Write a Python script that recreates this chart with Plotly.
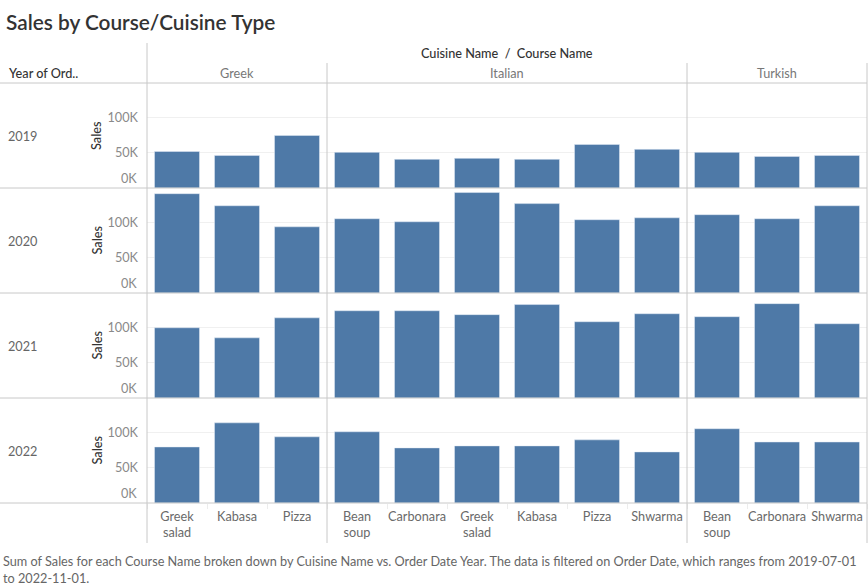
import plotly.graph_objects as go
from plotly.subplots import make_subplots

# ---- data ----
cuisines = ["Greek", "Italian", "Turkish"]
courses_greek = ["Greek<br>salad", "Kabasa", "Pizza"]
courses_italian = ["Bean<br>soup", "Carbonara", "Greek<br>salad", "Kabasa", "Pizza", "Shwarma"]
courses_turkish = ["Bean<br>soup", "Carbonara", "Shwarma"]
years = ["2019", "2020", "2021", "2022"]

sales_2019 = [52000, 46400, 74800, 50700, 40800, 42200, 40800, 62000, 55000, 50700, 45000, 46400]
sales_2020 = [140000, 123000, 93300, 104700, 100400, 141600, 126000, 103300, 106000, 110400, 104700, 123000]
sales_2021 = [99000, 84800, 113000, 123000, 123000, 117500, 131700, 107500, 118800, 114600, 133000, 104700]
sales_2022 = [79000, 113000, 93300, 100400, 77700, 80500, 80500, 89000, 72000, 104700, 86000, 86000]
sales_by_year = [sales_2019, sales_2020, sales_2021, sales_2022]

y_tickvals = [50000, 100000]
y_ticktext = ["50K", "100K"]

# ---- layout constants ----
W, H = 868, 586
L, R = 147, 867          # plot area x pixels
TOP, BOT = 84, 503       # plot area y pixels
row_edges = [84, 188, 293, 398, 503]
FONT = "Lato"
FS = 12.7
BAR = "#4e79a7"
LINE = "#c8c8c8"

course_labels = courses_greek + courses_italian + courses_turkish
xs = list(range(len(course_labels)))
group_sizes = [len(courses_greek), len(courses_italian), len(courses_turkish)]

def py(p):  # pixel y -> paper y
    return (BOT - p) / (BOT - TOP)

def px(p):  # pixel x -> paper x
    return (p - L) / (R - L)

fig = make_subplots(rows=4, cols=1, shared_xaxes=True, vertical_spacing=0)

for i, vals in enumerate(sales_by_year):
    fig.add_trace(go.Bar(x=xs, y=vals, marker_color=BAR, width=0.75,
                         hoverinfo="skip", showlegend=False), row=i + 1, col=1)

for i in range(4):
    yname = "yaxis" if i == 0 else f"yaxis{i+1}"
    fig.layout[yname].update(
        domain=[py(row_edges[i + 1]), py(row_edges[i])],
        range=[0, 148000], tickvals=y_tickvals, ticktext=y_ticktext,
        showgrid=True, gridcolor="#f0f0f0", gridwidth=1, zeroline=False,
        showline=False, ticks="", ticklabelstandoff=8,
        tickfont=dict(family=FONT, size=FS, color="#8a8a8a"), fixedrange=True)
    xname = "xaxis" if i == 0 else f"xaxis{i+1}"
    fig.layout[xname].update(range=[-0.5, len(xs) - 0.5], showgrid=False,
                             zeroline=False, showline=False, ticks="")

# bottom x axis labels
fig.layout["xaxis4"].update(
    tickmode="array", tickvals=xs, ticktext=course_labels,
    tickfont=dict(family=FONT, size=FS, color="#6a6a6a"), ticklabelstandoff=4,
    minor=dict(tickmode="linear", tick0=0.5, dtick=1, ticks="outside",
               ticklen=5, tickcolor="#ececec", showgrid=False))

shapes = []
def hline(y, x0=0, x1=R):
    shapes.append(dict(type="line", xref="paper", yref="paper",
                       x0=px(x0), x1=px(x1), y0=py(y), y1=py(y),
                       line=dict(color=LINE, width=1)))

for y in [83] + row_edges[1:]:
    hline(y)

# vertical lines
shapes.append(dict(type="line", xref="paper", yref="paper", x0=0, x1=0,
                   y0=py(43), y1=py(543), line=dict(color=LINE, width=1)))
shapes.append(dict(type="line", xref="paper", yref="paper", x0=1, x1=1,
                   y0=py(63), y1=py(543), line=dict(color=LINE, width=1)))
edge = -0.5
for g in group_sizes[:-1]:
    edge += g
    shapes.append(dict(type="line", xref="x", yref="paper", x0=edge, x1=edge,
                       y0=py(63), y1=py(543), line=dict(color=LINE, width=1)))

ann = []
# title
ann.append(dict(text="Sales by Course/Cuisine Type", xref="paper", yref="paper",
                x=px(4), y=py(21), xanchor="left", yanchor="middle", showarrow=False,
                font=dict(family=FONT, size=20.8, color="#333333", weight=600)))
ann.append(dict(text="Cuisine Name  /  Course Name", xref="paper", yref="paper",
                x=0.5, y=py(53), xanchor="center", yanchor="middle", showarrow=False,
                font=dict(family=FONT, size=FS, color="#333333", weight=500)))
ann.append(dict(text="Year of Ord..", xref="paper", yref="paper",
                x=px(6), y=py(73), xanchor="left", yanchor="middle", showarrow=False,
                font=dict(family=FONT, size=FS, color="#333333", weight=500)))
# cuisine headers
start = 0
for c, g in zip(cuisines, group_sizes):
    ann.append(dict(text=c, xref="x", yref="paper", x=start + (g - 1) / 2, y=py(73),
                    xanchor="center", yanchor="middle", showarrow=False,
                    font=dict(family=FONT, size=FS, color="#777777")))
    start += g
# row labels
for i, yr in enumerate(years):
    yd = "y domain" if i == 0 else f"y{i+1} domain"
    yref = "y" if i == 0 else f"y{i+1}"
    ann.append(dict(text=yr, xref="paper", yref=yd, x=px(6), y=0.5,
                    xanchor="left", yanchor="middle", showarrow=False,
                    font=dict(family=FONT, size=FS, color="#666666")))
    ann.append(dict(text="Sales", xref="paper", yref=yd, x=px(96), y=0.5,
                    xanchor="center", yanchor="middle", textangle=-90, showarrow=False,
                    font=dict(family=FONT, size=FS, color="#333333", weight=500)))
    ann.append(dict(text="0K", xref="paper", yref=yref, x=px(139), y=0,
                    xanchor="right", yanchor="bottom", showarrow=False,
                    font=dict(family=FONT, size=FS, color="#8a8a8a")))
# caption
ann.append(dict(text="Sum of Sales for each Course Name broken down by Cuisine Name vs. Order Date Year. "
                     "The data is filtered on Order Date, which ranges from 2019-07-01<br>to 2022-11-01.",
                xref="paper", yref="paper", x=px(1), y=py(551), xanchor="left", yanchor="top",
                align="left", showarrow=False,
                font=dict(family=FONT, size=FS, color="#666666")))

fig.update_layout(width=W, height=H, margin=dict(l=L, r=W - R, t=TOP, b=H - BOT),
                  paper_bgcolor="white", plot_bgcolor="white", bargap=0.25,
                  shapes=shapes, annotations=ann, font=dict(family=FONT))

fig.write_html("out.html", config={"displayModeBar": False},
               post_script="document.body.style.margin='0';document.body.style.overflow='hidden';")
